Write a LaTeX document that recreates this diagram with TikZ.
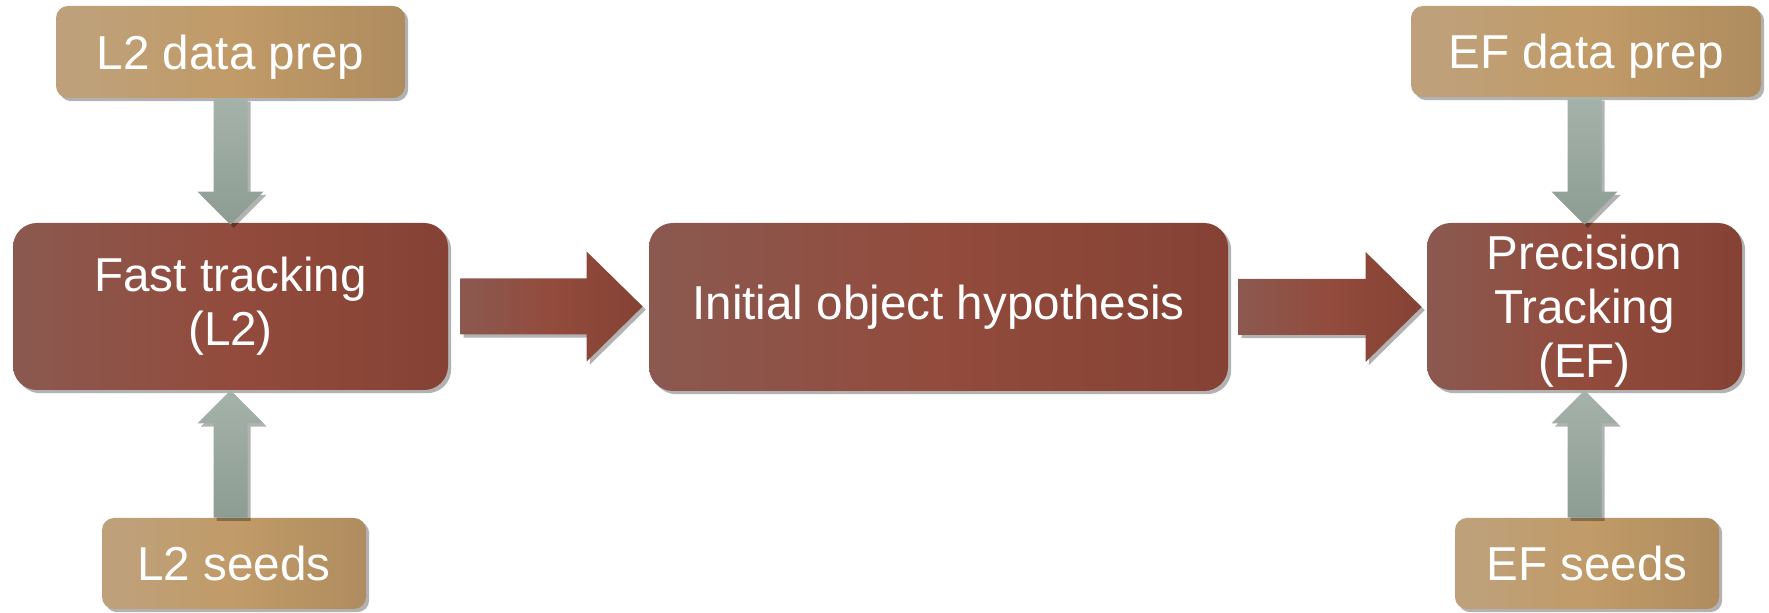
\documentclass[tikz,border=0pt]{standalone}
\usepackage{fontspec}
\setmainfont{Liberation Sans}
\usetikzlibrary{calc,shadows}
\definecolor{redL}{RGB}{139,89,80}
\definecolor{redM}{RGB}{146,75,60}
\definecolor{redR}{RGB}{133,66,52}
\definecolor{tanL}{RGB}{190,161,124}
\definecolor{tanM}{RGB}{193,155,104}
\definecolor{tanR}{RGB}{175,140,95}
\definecolor{grayT}{RGB}{165,178,170}
\definecolor{grayB}{RGB}{141,157,147}
\tikzset{
  shadowed/.style={drop shadow={shadow xshift=1.6pt, shadow yshift=-1.6pt, opacity=0.3, fill=black}},
  mainbox/.style={shape=rectangle, rounded corners=12pt, inner sep=0pt, align=center, text=white,
    left color=redL, right color=redR, middle color=redM, shadowed, font=\fontsize{23.8}{27}\selectfont},
  inbox/.style={shape=rectangle, rounded corners=6pt, inner sep=0pt, align=center, text=white, text depth=0pt,
    left color=tanL, right color=tanR, middle color=tanM, shadowed, font=\fontsize{23.8}{27}\selectfont},
  redarrow/.style={left color=redL, right color=redR, middle color=redM, shadowed},
  grayarrow/.style={top color=grayT, bottom color=grayB, shadowed},
}
\newcommand\blockarrowH[2]{%
  \path[redarrow] let \p1=#1, \p2=#2 in
    (\x1,\y1+14pt) -- (\x2-28pt,\y1+14pt) -- (\x2-28pt,\y1+27.5pt) -- (\x2,\y1)
    -- (\x2-28pt,\y1-27.5pt) -- (\x2-28pt,\y1-14pt) -- (\x1,\y1-14pt) -- cycle;}
\newcommand\blockarrowV[3]{%
  \path[grayarrow] let \p1=#1, \p2=#2 in
    (\x2-8.5pt,\y1) -- (\x2-8.5pt,{\y2+(#3)*16.5pt}) -- (\x2-16.5pt,{\y2+(#3)*16.5pt}) -- (\x2,\y2)
    -- (\x2+16.5pt,{\y2+(#3)*16.5pt}) -- (\x2+8.5pt,{\y2+(#3)*16.5pt}) -- (\x2+8.5pt,\y1) -- cycle;}
\begin{document}
\begin{tikzpicture}[x=0.5pt,y=-0.5pt]
\useasboundingbox (0,0) rectangle (1769,613);
\node[inbox, minimum width=174.5pt, minimum height=46pt] (l2prep) at (230.5,52) {L2 data prep};
\node[mainbox, minimum width=217.5pt, minimum height=83.5pt] (ft) at (230.5,306.5) {Fast tracking\\(L2)};
\node[inbox, minimum width=132pt, minimum height=45.5pt] (l2seed) at (234,563.5) {L2 seeds};
\node[mainbox, minimum width=289.5pt, minimum height=84pt] (io) at (938.5,307) {Initial object hypothesis};
\node[mainbox, minimum width=157.5pt, minimum height=83.5pt, text height=76pt, text depth=5pt] (pt) at (1584.5,306.5) {Precision\\Tracking\\(EF)};
\node[inbox, minimum width=175pt, minimum height=45.5pt] (efprep) at (1586,51.5) {EF data prep};
\node[inbox, minimum width=132pt, minimum height=45.5pt] (efseed) at (1587,563.5) {EF seeds};
\blockarrowH{($(ft.east)+(6pt,0)$)}{($(io.west)+(-3pt,0)$)}
\blockarrowH{($(io.east)+(5pt,0)$)}{($(pt.west)+(-2.5pt,0)$)}
\blockarrowV{(l2prep.south)}{($(ft.north)+(0,-1pt)$)}{1}
\blockarrowV{(l2seed.north)}{(ft.south)}{-1}
\blockarrowV{(efprep.south)}{($(pt.north)+(0,-1pt)$)}{1}
\blockarrowV{(efseed.north)}{(pt.south)}{-1}
\end{tikzpicture}
\end{document}
